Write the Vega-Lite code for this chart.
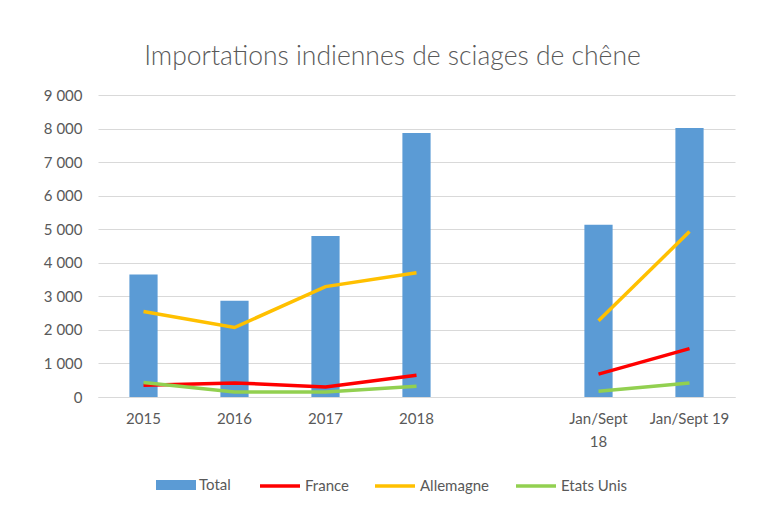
{
  "$schema": "https://vega.github.io/schema/vega-lite/v6.json",
  "width": 637,
  "height": 302,
  "autosize": "none",
  "padding": {"left": 98, "top": 95, "right": 34, "bottom": 120},
  "background": "white",
  "config": {
    "locale": {"number": {"decimal": ",", "thousands": " ", "grouping": [3], "currency": ["", " €"]}},
    "view": {"stroke": null},
    "font": "Lato"
  },
  "title": {
    "text": "Importations indiennes de sciages de chêne",
    "font": "Lato",
    "fontSize": 26.5,
    "fontWeight": 300,
    "color": "#595959",
    "anchor": "middle",
    "dx": -24,
    "offset": 18
  },
  "data": {
    "values": [
      {"periode": "2015", "serie": "Total", "valeur": 3650, "bloc": "annuel"},
      {"periode": "2016", "serie": "Total", "valeur": 2870, "bloc": "annuel"},
      {"periode": "2017", "serie": "Total", "valeur": 4800, "bloc": "annuel"},
      {"periode": "2018", "serie": "Total", "valeur": 7870, "bloc": "annuel"},
      {"periode": "Jan/Sept 18", "serie": "Total", "valeur": 5130, "bloc": "partiel"},
      {"periode": "Jan/Sept 19", "serie": "Total", "valeur": 8020, "bloc": "partiel"},
      {"periode": "2015", "serie": "France", "valeur": 350, "bloc": "annuel"},
      {"periode": "2016", "serie": "France", "valeur": 420, "bloc": "annuel"},
      {"periode": "2017", "serie": "France", "valeur": 300, "bloc": "annuel"},
      {"periode": "2018", "serie": "France", "valeur": 650, "bloc": "annuel"},
      {"periode": "Jan/Sept 18", "serie": "France", "valeur": 680, "bloc": "partiel"},
      {"periode": "Jan/Sept 19", "serie": "France", "valeur": 1440, "bloc": "partiel"},
      {"periode": "2015", "serie": "Allemagne", "valeur": 2550, "bloc": "annuel"},
      {"periode": "2016", "serie": "Allemagne", "valeur": 2070, "bloc": "annuel"},
      {"periode": "2017", "serie": "Allemagne", "valeur": 3290, "bloc": "annuel"},
      {"periode": "2018", "serie": "Allemagne", "valeur": 3700, "bloc": "annuel"},
      {"periode": "Jan/Sept 18", "serie": "Allemagne", "valeur": 2270, "bloc": "partiel"},
      {"periode": "Jan/Sept 19", "serie": "Allemagne", "valeur": 4930, "bloc": "partiel"},
      {"periode": "2015", "serie": "Etats Unis", "valeur": 430, "bloc": "annuel"},
      {"periode": "2016", "serie": "Etats Unis", "valeur": 150, "bloc": "annuel"},
      {"periode": "2017", "serie": "Etats Unis", "valeur": 150, "bloc": "annuel"},
      {"periode": "2018", "serie": "Etats Unis", "valeur": 320, "bloc": "annuel"},
      {"periode": "Jan/Sept 18", "serie": "Etats Unis", "valeur": 170, "bloc": "partiel"},
      {"periode": "Jan/Sept 19", "serie": "Etats Unis", "valeur": 420, "bloc": "partiel"}
    ]
  },
  "encoding": {
    "x": {
      "field": "periode",
      "type": "nominal",
      "scale": {
        "domain": ["2015", "2016", "2017", "2018", "", "Jan/Sept 18", "Jan/Sept 19"],
        "paddingInner": 0.69,
        "paddingOuter": 0.345
      },
      "axis": {
        "title": null,
        "labelAngle": 0,
        "ticks": false,
        "domain": true,
        "domainColor": "#d9d9d9",
        "labelFont": "Lato",
        "labelFontSize": 15,
        "labelColor": "#595959",
        "labelPadding": 14,
        "labelLineHeight": 23,
        "labelExpr": "datum.value == 'Jan/Sept 18' ? ['Jan/Sept', '18'] : datum.value"
      }
    },
    "y": {
      "field": "valeur",
      "type": "quantitative",
      "scale": {"domain": [0, 9000]},
      "axis": {
        "title": null,
        "values": [0, 1000, 2000, 3000, 4000, 5000, 6000, 7000, 8000, 9000],
        "format": ",d",
        "domain": false,
        "ticks": false,
        "grid": true,
        "gridColor": "#d9d9d9",
        "labelFont": "Lato",
        "labelFontSize": 15,
        "labelColor": "#595959",
        "labelPadding": 16
      }
    }
  },
  "layer": [
    {
      "transform": [{"filter": "datum.serie == 'Total'"}],
      "mark": {"type": "bar"},
      "encoding": {
        "fill": {
          "field": "serie",
          "type": "nominal",
          "scale": {"domain": ["Total"], "range": ["#5b9bd5"]},
          "legend": {
            "orient": "none",
            "legendX": 58,
            "legendY": 370,
            "direction": "horizontal",
            "title": null,
            "padding": 0,
            "symbolType": "M-1,-0.25H1V0.25H-1Z",
            "symbolSize": 1600,
            "symbolStrokeWidth": 0,
            "labelFont": "Lato",
            "labelFontSize": 15,
            "labelColor": "#595959",
            "labelOffset": 3
          }
        }
      }
    },
    {
      "transform": [{"filter": "datum.serie != 'Total'"}],
      "mark": {"type": "line"},
      "encoding": {
        "stroke": {
          "field": "serie",
          "type": "nominal",
          "scale": {"domain": ["France", "Allemagne", "Etats Unis"], "range": ["#ff0000", "#ffc000", "#92d050"]},
          "legend": {
            "orient": "none",
            "legendX": 160,
            "legendY": 369,
            "direction": "horizontal",
            "title": null,
            "padding": 0,
            "symbolType": "stroke",
            "symbolSize": 1600,
            "symbolStrokeWidth": 3,
            "columnPadding": 19,
            "labelFont": "Lato",
            "labelFontSize": 15,
            "labelColor": "#595959",
            "labelOffset": 3
          }
        },
        "strokeWidth": {
          "field": "serie",
          "type": "nominal",
          "scale": {"domain": ["France", "Allemagne", "Etats Unis"], "range": [3.5, 3.5, 2.5]},
          "legend": null
        },
        "detail": {"field": "bloc"}
      }
    }
  ]
}
